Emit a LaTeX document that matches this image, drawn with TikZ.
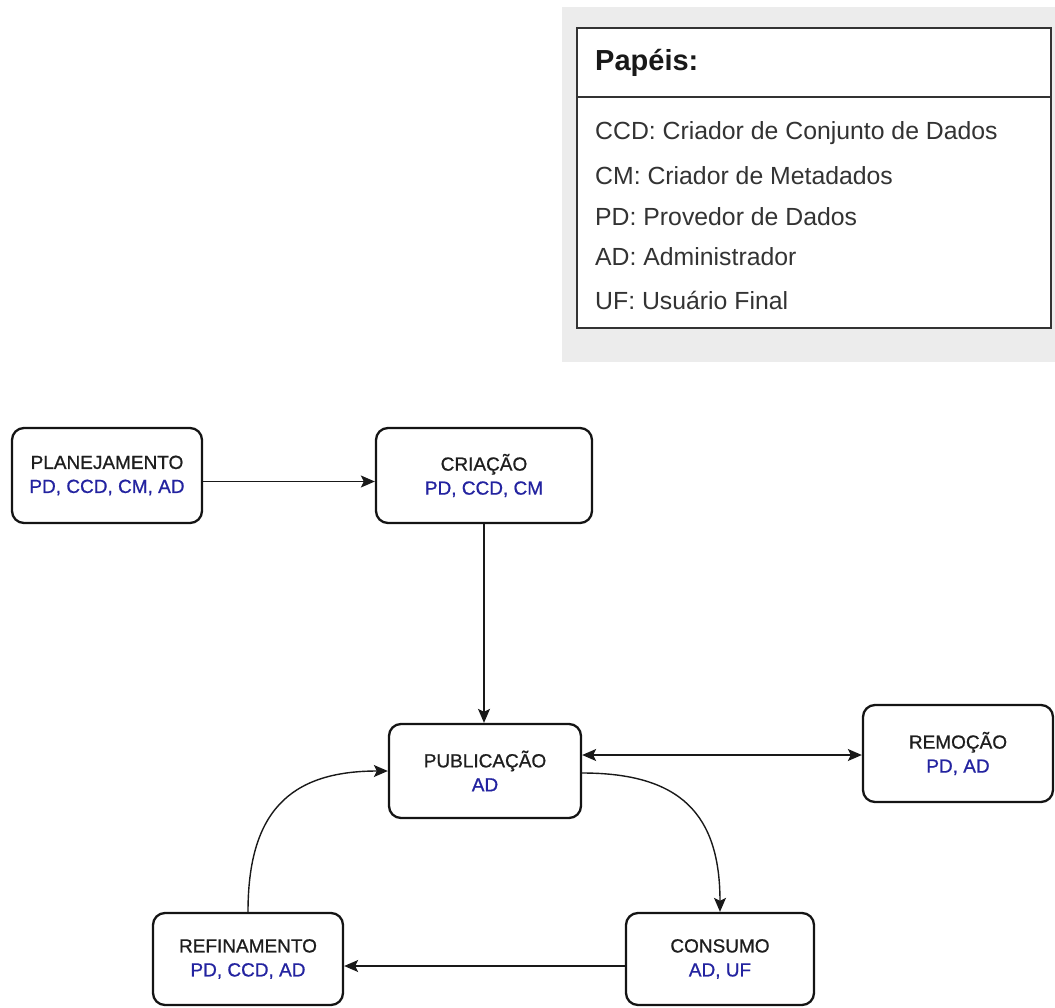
\documentclass[tikz,border=0pt]{standalone}
\usepackage{fontspec}
\setmainfont{Liberation Sans}
\newfontfamily\stagefont[FakeBold=0.8]{Liberation Sans}
\usetikzlibrary{arrows.meta}
\definecolor{rolblue}{RGB}{35,35,160}
\definecolor{legbg}{RGB}{236,236,236}
\definecolor{txtgray}{RGB}{30,30,30}
\definecolor{legtxt}{RGB}{51,51,51}
\begin{document}
\begin{tikzpicture}[x=1pt,y=-1pt,
  stage/.style={draw=black!92, line width=2.3pt, rounded corners=12pt, fill=white,
    align=center, font=\stagefont\fontsize{19}{24}\selectfont, text=txtgray, inner sep=0pt},
  legitem/.style={anchor=base west, inner sep=0pt, text=legtxt, font=\fontsize{24.8}{28}\selectfont},
  arr/.style={line width=1.4pt, draw=black!90, -{Stealth[length=14pt,width=12pt,inset=3pt]}},
  arrboth/.style={line width=1.4pt, draw=black!90, {Stealth[length=14pt,width=12pt,inset=3pt]}-{Stealth[length=14pt,width=12pt,inset=3pt]}}
]
\useasboundingbox (0,0) rectangle (1055,1007);
% legend
\fill[legbg] (562,7) rectangle (1055,362);
\draw[fill=white, draw=black!80, line width=1.5pt] (577,28) rectangle (1051,328);
\draw[draw=black!80, line width=1.5pt] (577,97) -- (1051,97);
\node[anchor=base west, inner sep=0pt, text=black!90, font=\fontsize{29}{32}\selectfont\bfseries] (legtitle) at (595,70.7) {Papéis:};
\node[legitem] (leg1) at (595,139.3) {CCD: Criador de Conjunto de Dados};
\node[legitem] (leg2) at (595,184) {CM: Criador de Metadados};
\node[legitem] (leg3) at (595,225.7) {PD: Provedor de Dados};
\node[legitem] (leg4) at (595,265.7) {AD: Administrador};
\node[legitem] (leg5) at (595,309) {UF: Usuário Final};
% stages
\node[stage, minimum width=190pt, minimum height=95pt] (plan) at (107,475.5) {PLANEJAMENTO\\\textcolor{rolblue}{PD, CCD, CM, AD}};
\node[stage, minimum width=216pt, minimum height=95pt] (crea) at (484,475.5) {CRIAÇÃO\\\textcolor{rolblue}{PD, CCD, CM}};
\node[stage, minimum width=192pt, minimum height=94pt] (pub) at (485,771) {PUBLICAÇÃO\\\textcolor{rolblue}{AD}};
\node[stage, minimum width=190pt, minimum height=97pt] (rem) at (958,753.5) {REMOÇÃO\\\textcolor{rolblue}{PD, AD}};
\node[stage, minimum width=190pt, minimum height=92pt] (ref) at (248,959) {REFINAMENTO\\\textcolor{rolblue}{PD, CCD, AD}};
\node[stage, minimum width=188pt, minimum height=92pt] (cons) at (720,959) {CONSUMO\\\textcolor{rolblue}{AD, UF}};
% connectors
\draw[arr] ([yshift=-6pt]plan.east) -- ([yshift=-6pt]crea.west);
\draw[arr] (crea.south) -- (crea.south |- pub.north);
\coordinate (pubr) at ([yshift=16pt]pub.east);
\draw[arrboth] (pubr) -- (rem.west |- pubr);
\draw[arr] ([yshift=-2pt]pub.east) .. controls +(98,0) and +(0,-98) .. (cons.north);
\coordinate (consl) at ([yshift=-7pt]cons.west);
\draw[arr] (consl) -- (ref.east |- consl);
\draw[arr] (ref.north) .. controls +(0,-99) and +(-99,0) .. (pub.west);
\end{tikzpicture}
\end{document}
